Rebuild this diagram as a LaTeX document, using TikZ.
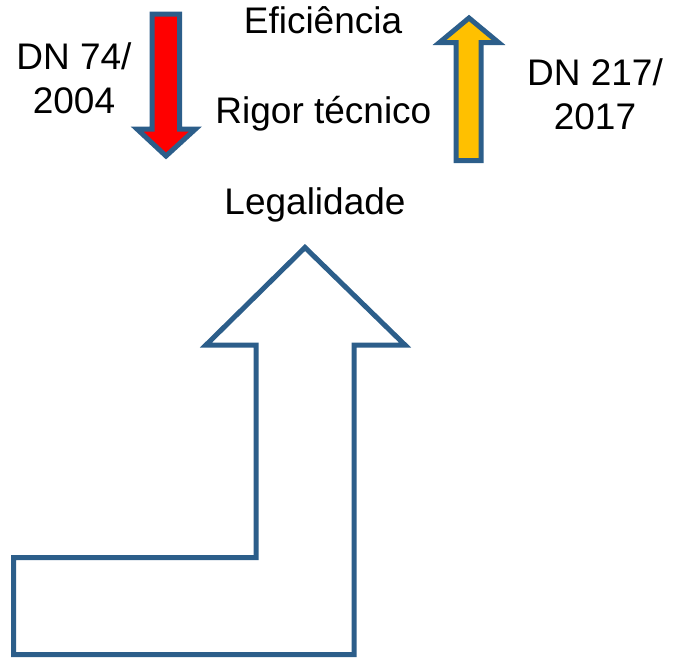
\documentclass[tikz,border=0pt]{standalone}
\usepackage{fontspec}
\setmainfont{Liberation Sans}

\definecolor{outline}{RGB}{44,94,138}
\definecolor{arrowred}{RGB}{255,0,0}
\definecolor{arrowgold}{RGB}{255,192,0}

\tikzset{
    block/.style = {
        draw=outline,
        line width=5pt,
        line join=miter
    },
    word/.style = {
        inner sep=0pt,
        font=\fontsize{37}{44}\selectfont
    },
    twoline/.style = {
        word,
        align=center
    }
}

\begin{document}
\begin{tikzpicture}[x=1pt, y=-1pt]
    \useasboundingbox (0,0) rectangle (673,657);

    % Draw big bent arrow
    \draw[block, fill=white] (13.5,557.5) -- (256,557.5) -- (256,345) -- (206,345) -- (305,247.5)
        -- (405,345) -- (354,345) -- (354,654.5) -- (13.5,654.5) -- cycle;

    % Draw small arrows
    \draw[block, fill=arrowred] (152,14) -- (179.5,14) -- (179.5,129) -- (195.5,129) -- (166,156)
        -- (137,129) -- (152,129) -- cycle;
    \draw[block, fill=arrowgold] (469,18) -- (498.5,42.5) -- (481,42.5) -- (481,160.5) -- (456,160.5)
        -- (456,42.5) -- (439.5,42.5) -- cycle;

    % Draw labels
    \node[word, anchor=base] (efic) at (323,33.3) {Eficiência};
    \node[word, anchor=base] (rigor) at (323.4,123.3) {Rigor técnico};
    \node[word, anchor=base] (legal) at (315,214.5) {Legalidade};

    \node[twoline] (dn74) at (74,78) {DN 74/\\2004};
    \node[twoline] (dn217) at (595,94) {DN 217/\\2017};
\end{tikzpicture}
\end{document}
